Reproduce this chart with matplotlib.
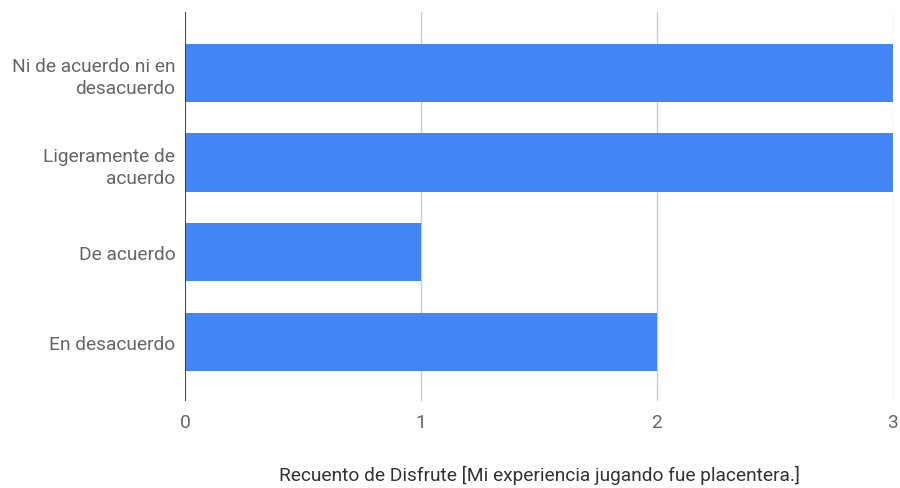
import matplotlib
matplotlib.use("Agg")
import matplotlib.pyplot as plt

categories = ["Ni de acuerdo ni en\ndesacuerdo", "Ligeramente de\nacuerdo", "De acuerdo", "En desacuerdo"]
values = [3, 3, 1, 2]
xticks = [0, 1, 2, 3]
xlabel = "Recuento de Disfrute [Mi experiencia jugando fue placentera.]"

plt.rcParams['font.family'] = ['Roboto', 'DejaVu Sans']

fig = plt.figure(figsize=(9, 4.89), dpi=100)
ax = fig.add_axes([185/900, 1-402/489, (893-185)/900, (402-13)/489])

ypos = list(range(len(categories)))
ax.barh(ypos, values, height=0.65, color="#4285F4", zorder=3)
ax.set_ylim(3.66, -0.68)
ax.set_xlim(0, 3)
ax.set_yticks(ypos)
ax.set_yticklabels(categories, fontsize=13.8, color="#666666", linespacing=1.3)
ax.set_xticks(xticks)
ax.set_xticklabels([str(t) for t in xticks], fontsize=13.8, color="#666666")
ax.tick_params(axis='both', length=0)
ax.tick_params(axis='y', pad=7)
ax.tick_params(axis='x', pad=9)
ax.grid(axis='x', color="#cccccc", linewidth=1, zorder=0)
for s in ax.spines.values():
    s.set_visible(False)
ax.axvline(0, color="#333333", linewidth=1.2, zorder=4)
ax.set_xlabel(xlabel, fontsize=13.8, color="#333333", labelpad=24)

fig.savefig("out.png", dpi=100, facecolor="white")
